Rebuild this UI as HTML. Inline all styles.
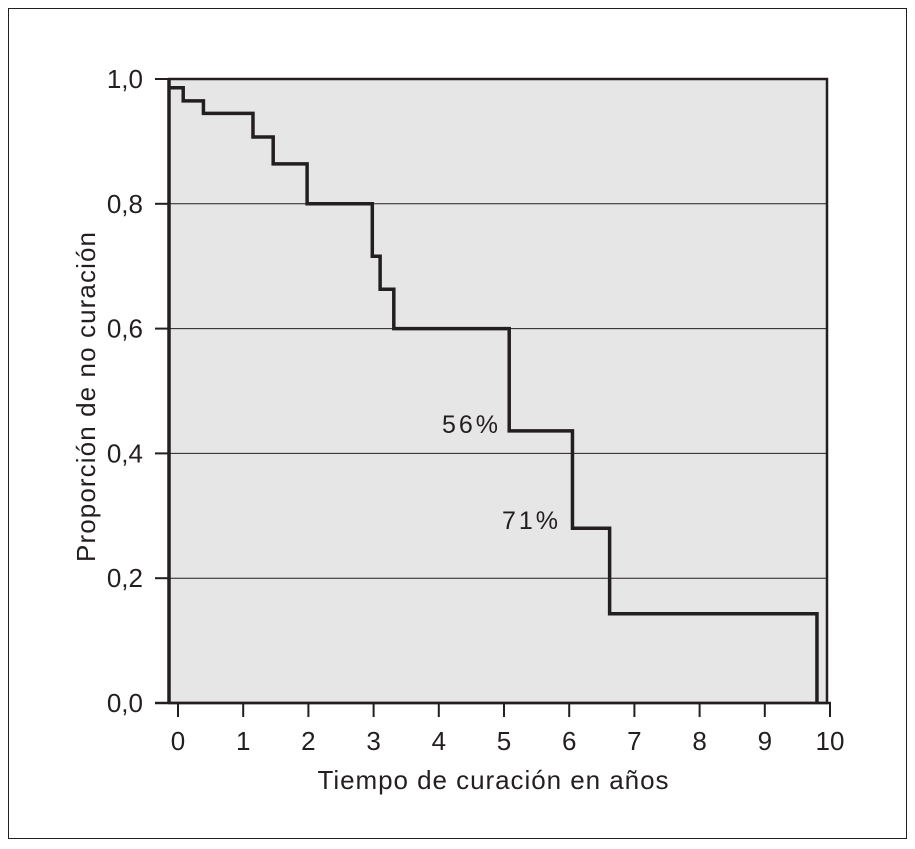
<!DOCTYPE html>
<html><head><meta charset="utf-8"><style>
body{margin:0;background:#fff;}
svg{display:block;font-family:"Liberation Sans",Arial,sans-serif;}
</style></head><body>
<svg width="915" height="849">
<rect x="8.5" y="8.5" width="898" height="830" fill="#fff" stroke="#231f20" stroke-width="1"/>
<rect x="169" y="79" width="658" height="624" fill="#e6e6e6"/>
<g id="grid"></g>
<g id="axes"></g>
<path id="curve" fill="none" stroke="#231f20" stroke-width="3.5"/>
<text x="470" y="433" font-size="25" text-anchor="middle" fill="#231f20" textLength="56">56%</text>
<text x="530" y="529" font-size="25" text-anchor="middle" fill="#231f20" textLength="56">71%</text>
<text x="493" y="789" font-size="26" text-anchor="middle" fill="#231f20" textLength="351">Tiempo de curación en años</text>
<text transform="translate(95,397) rotate(-90)" font-size="26" text-anchor="middle" fill="#231f20" textLength="330">Proporción de no curación</text>
</svg>
<script>
const stepTimes=[0,0.08,0.39,1.15,1.46,1.98,2.98,3.1,3.31,5.08,6.05,6.62,9.8];
const stepValues=[0.986,0.965,0.945,0.907,0.864,0.8,0.716,0.663,0.6,0.436,0.28,0.143,0];
const xTicks=[0,1,2,3,4,5,6,7,8,9,10];
const yTicks=[0,0.2,0.4,0.6,0.8,1.0];
const yTickLabels=["0,0","0,2","0,4","0,6","0,8","1,0"];
const NS="http://www.w3.org/2000/svg";
const xs=t=>178+t*65.2;
const ys=v=>703-v*624;
const grid=document.getElementById('grid'),axes=document.getElementById('axes');
function mk(tag,attrs,parent){const e=document.createElementNS(NS,tag);for(const k in attrs)e.setAttribute(k,attrs[k]);parent.appendChild(e);return e;}
yTicks.forEach((v,i)=>{
  if(v>0&&v<1){const g=mk('line',{x1:169,x2:827,y1:ys(v),y2:ys(v),stroke:'#231f20','stroke-width':1},grid);
  
  }
  const t=mk('line',{x1:155,x2:169,y1:ys(v),y2:ys(v),stroke:'#231f20','stroke-width':2},axes);
  
  
  const l=mk('text',{x:143,y:ys(v)+9,'font-size':26,'text-anchor':'end',fill:'#231f20'},axes);
  l.textContent=yTickLabels[i];
  
  
});
xTicks.forEach(t=>{
  const k=mk('line',{x1:xs(t),x2:xs(t),y1:703,y2:717,stroke:'#231f20','stroke-width':2},axes);
  
  
  const l=mk('text',{x:xs(t),y:750,'font-size':26,'text-anchor':'middle',fill:'#231f20'},axes);
  l.textContent=t;
  
  
});
const fr=mk('rect',{x:169,y:79,width:658,height:624,fill:'none',stroke:'#231f20','stroke-width':2.5},axes);


const ax=mk('line',{x1:155,x2:831,y1:703,y2:703,stroke:'#231f20','stroke-width':2.5},axes);


const ay=mk('line',{x1:169,x2:169,y1:79,y2:703,stroke:'#231f20','stroke-width':3.5},axes);


let d='M169,'+ys(stepValues[0]);
for(let i=1;i<stepTimes.length;i++){d+=' H'+xs(stepTimes[i])+' V'+ys(stepValues[i]);}
document.getElementById('curve').setAttribute('d',d);
</script>
</body></html>
